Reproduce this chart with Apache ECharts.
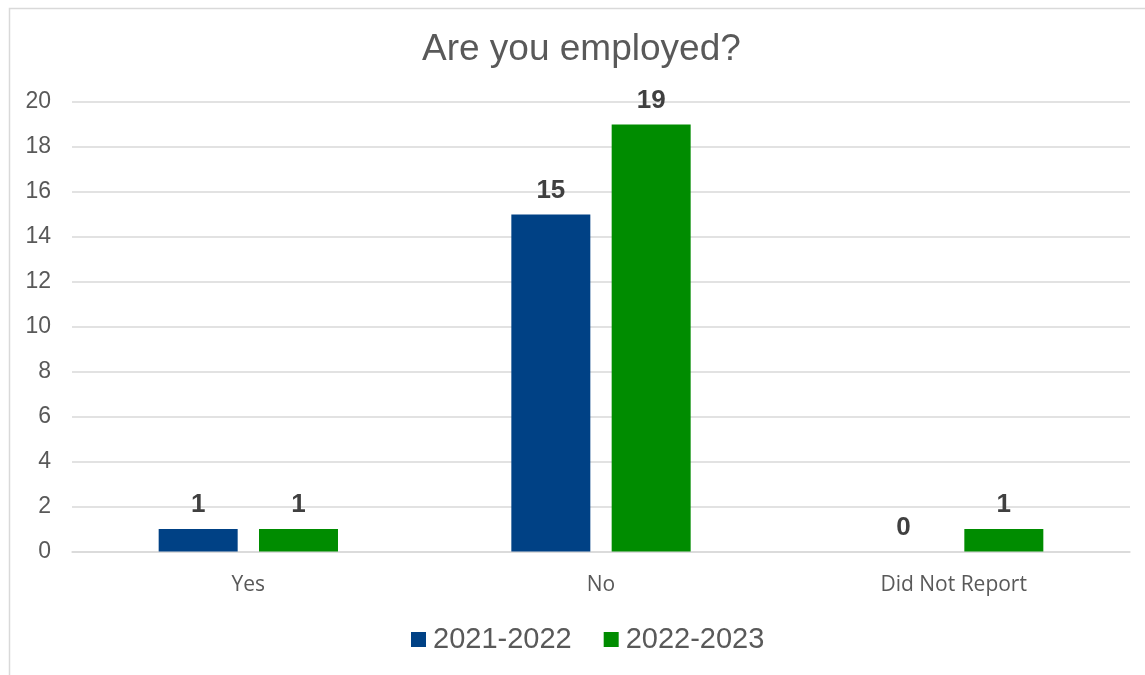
<!DOCTYPE html>
<html>
<head>
<meta charset="utf-8">
<script src="https://cdn.jsdelivr.net/npm/echarts@6/dist/echarts.min.js"></script>
<style>
  html, body { margin: 0; padding: 0; background: #fff; }
  #chart { width: 1145px; height: 675px; }
</style>
</head>
<body>
<div id="chart"></div>
<script>
// Survey responses: employment status by academic year
const categories = ['Yes', 'No', 'Did Not Report'];
const seriesNames = ['2021-2022', '2022-2023'];
const values2021 = [1, 15, 0];
const values2022 = [1, 19, 1];
const yTicks = { min: 0, max: 20, interval: 2 };

const textGray = '#595959';
const labelGray = '#404040';
const colors = ['#004185', '#008C00'];
const sansFont = 'Liberation Sans, Arial, sans-serif';

const chart = echarts.init(document.getElementById('chart'));

function barSeries(name, data, color) {
  return {
    name: name,
    type: 'bar',
    data: data,
    barWidth: '22.4%',
    barGap: '27%',
    itemStyle: { color: color },
    label: {
      show: true,
      position: 'top',
      distance: 11,
      fontFamily: sansFont,
      fontSize: 26,
      fontWeight: 'bold',
      color: labelGray
    }
  };
}

chart.setOption({
  animation: false,
  backgroundColor: '#ffffff',
  title: {
    text: 'Are you employed?',
    left: 417,
    top: 26,
    textStyle: {
      fontFamily: sansFont,
      fontSize: 37,
      fontWeight: 'normal',
      color: textGray
    }
  },
  legend: {
    data: seriesNames,
    top: 620,
    left: 406,
    icon: 'rect',
    itemWidth: 15,
    itemHeight: 15,
    itemGap: 32,
    textStyle: {
      fontFamily: sansFont,
      fontSize: 29,
      color: textGray,
      padding: [0, 0, 0, 2]
    }
  },
  grid: {
    left: 72,
    right: 15,
    top: 102,
    bottom: 123.5,
    containLabel: false
  },
  xAxis: {
    type: 'category',
    data: categories,
    axisLine: { show: true, lineStyle: { color: '#d9d9d9', width: 1.5 } },
    axisTick: { show: false },
    axisLabel: {
      margin: 23,
      fontFamily: 'Open Sans, Noto Sans, sans-serif',
      fontSize: 21,
      color: textGray
    }
  },
  yAxis: {
    type: 'value',
    min: yTicks.min,
    max: yTicks.max,
    interval: yTicks.interval,
    axisLine: { show: false },
    axisTick: { show: false },
    splitLine: { lineStyle: { color: '#d9d9d9', width: 1.5 } },
    axisLabel: {
      margin: 21,
      fontFamily: sansFont,
      fontSize: 23,
      color: textGray
    }
  },
  graphic: [{
    type: 'rect',
    left: 7,
    top: 6,
    shape: { width: 1200, height: 700 },
    style: { fill: 'none', stroke: '#d9d9d9', lineWidth: 1.5 },
    silent: true
  }],
  series: [
    barSeries(seriesNames[0], values2021, colors[0]),
    barSeries(seriesNames[1], values2022, colors[1])
  ]
});
</script>
</body>
</html>
